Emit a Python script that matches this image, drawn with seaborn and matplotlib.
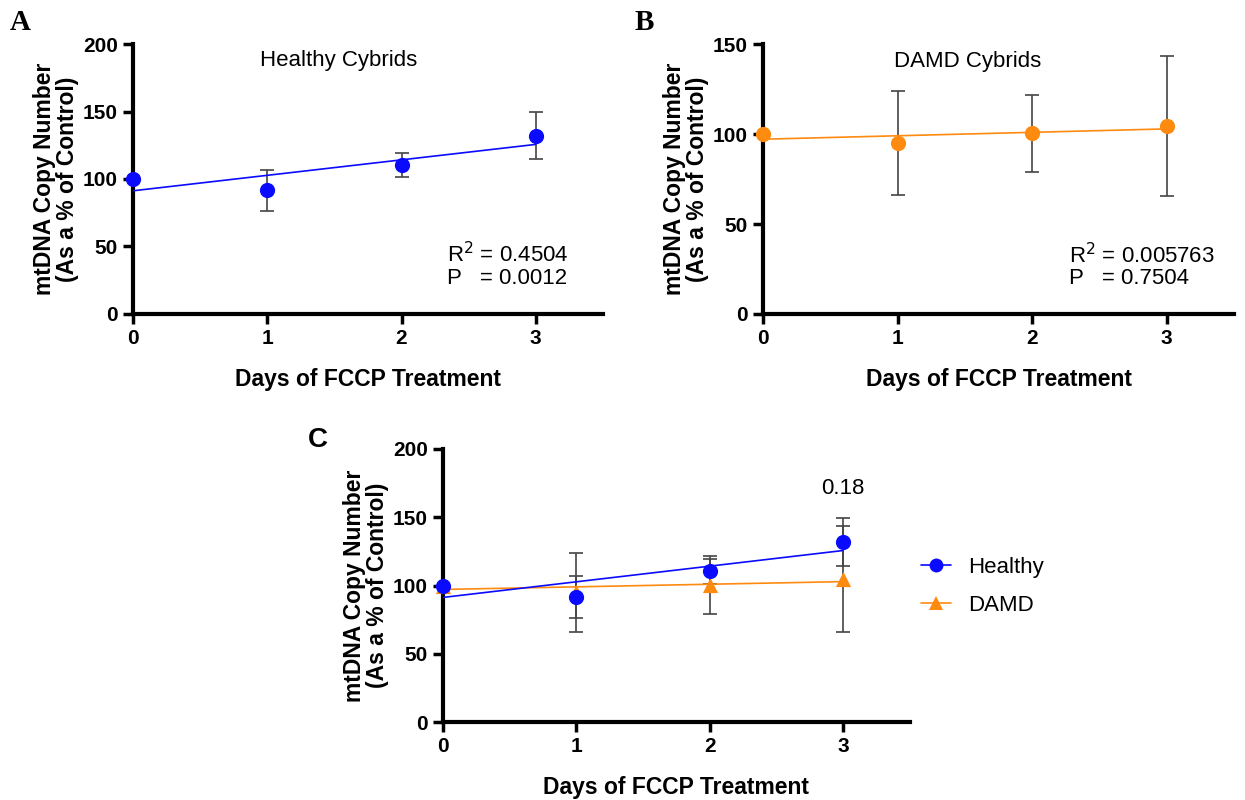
import numpy as np
import pandas as pd
import matplotlib
matplotlib.use("Agg")
import matplotlib.pyplot as plt
import seaborn as sns
from matplotlib.lines import Line2D

sns.set_theme(style="ticks")
plt.rcParams['font.family'] = ['Liberation Sans', 'DejaVu Sans']
plt.rcParams['text.color'] = 'black'
plt.rcParams['axes.labelcolor'] = 'black'
plt.rcParams['xtick.color'] = 'black'
plt.rcParams['ytick.color'] = 'black'

days = [0, 1, 2, 3]
healthy_mean = [100, 91.5, 110.4, 131.9]
healthy_sd = [0, 15.5, 9.2, 17.4]
damd_mean = [100, 95, 100.3, 104.6]
damd_sd = [0, 29, 21.5, 39]

BLUE = "#0a0aff"
ORANGE = "#ff8a10"
ERR = "#444444"

fig = plt.figure(figsize=(12.45, 8), dpi=100)
axA = fig.add_axes([0.1068, 0.6075, 0.3775, 0.3375])
axB = fig.add_axes([0.6129, 0.6075, 0.3783, 0.3375])
axC = fig.add_axes([0.3558, 0.0975, 0.3751, 0.34125])

def style(ax, ymax, step):
    ax.set_xlim(0, 3.5)
    ax.set_ylim(0, ymax)
    ax.set_xticks(days)
    ax.set_yticks(np.arange(0, ymax + 1, step))
    for s in ['top', 'right']:
        ax.spines[s].set_visible(False)
    for s in ['left', 'bottom']:
        ax.spines[s].set_linewidth(3)
        ax.spines[s].set_color('black')
    ax.tick_params(width=2.5, length=7, labelsize=15, color='black', labelcolor='black', pad=4)
    for lab in ax.get_xticklabels() + ax.get_yticklabels():
        lab.set_fontweight('bold')
    ax.set_xlabel("Days of FCCP Treatment", fontsize=16.5, fontweight='bold', labelpad=14)
    ax.set_ylabel("mtDNA Copy Number\n(As a % of Control)", fontsize=16.5, fontweight='bold',
                  linespacing=1.0, labelpad=3)
    ax.set_facecolor('white')
    ax.grid(False)

def draw(ax, mean, sd, color, marker, zl=3):
    ax.errorbar(days, mean, yerr=sd, fmt='none', ecolor=ERR, elinewidth=1.2,
                capsize=5, capthick=1.2, zorder=2, clip_on=False)
    sns.regplot(x=days, y=mean, ax=ax, ci=None, scatter=False, truncate=True,
                line_kws=dict(color=color, lw=1.2, zorder=zl))
    sns.scatterplot(x=days, y=mean, ax=ax, color=color, marker=marker, s=120,
                    edgecolor=color, linewidth=0, zorder=zl + 1, clip_on=False)

TXT = 16

# Panel A
draw(axA, healthy_mean, healthy_sd, BLUE, 'o')
style(axA, 200, 50)
axA.text(1.53, 188, "Healthy Cybrids", ha='center', va='center', fontsize=TXT)
axA.text(2.34, 43.7, r"R$^2$ = 0.4504", ha='left', va='center', fontsize=TXT)
axA.text(2.34, 26.5, "P   = 0.0012", ha='left', va='center', fontsize=TXT)

# Panel B
draw(axB, damd_mean, damd_sd, ORANGE, 'o')
style(axB, 150, 50)
axB.text(1.52, 140.5, "DAMD Cybrids", ha='center', va='center', fontsize=TXT)
axB.text(2.27, 32.7, r"R$^2$ = 0.005763", ha='left', va='center', fontsize=TXT)
axB.text(2.27, 19.9, "P   = 0.7504", ha='left', va='center', fontsize=TXT)

# Panel C
draw(axC, damd_mean, damd_sd, ORANGE, '^', zl=3)
draw(axC, healthy_mean, healthy_sd, BLUE, 'o', zl=5)
style(axC, 200, 50)
axC.text(3, 171, "0.18", ha='center', va='center', fontsize=TXT)
for a in (axA, axB, axC):
    if a.get_legend():
        a.get_legend().remove()

handles = [Line2D([0], [0], color=BLUE, lw=1.2, marker='o', markersize=10, markeredgewidth=0),
           Line2D([0], [0], color=ORANGE, lw=1.2, marker='^', markersize=10, markeredgewidth=0)]
fig.legend(handles, ["Healthy", "DAMD"], loc='center left', bbox_to_anchor=(0.724, 0.267),
           frameon=False, handlelength=1.35, handletextpad=0.75, labelspacing=0.75,
           prop={'size': 16})

# Panel letters
fig.text(0.008, 0.972, "A", fontsize=21, fontweight='bold', family=['Liberation Serif', 'DejaVu Serif'],
         va='center')
fig.text(0.510, 0.972, "B", fontsize=21, fontweight='bold', family=['Liberation Serif', 'DejaVu Serif'],
         va='center')
fig.text(0.247, 0.45, "C", fontsize=20, fontweight='bold', va='center')

fig.savefig("out.png", dpi=100, facecolor='white')
